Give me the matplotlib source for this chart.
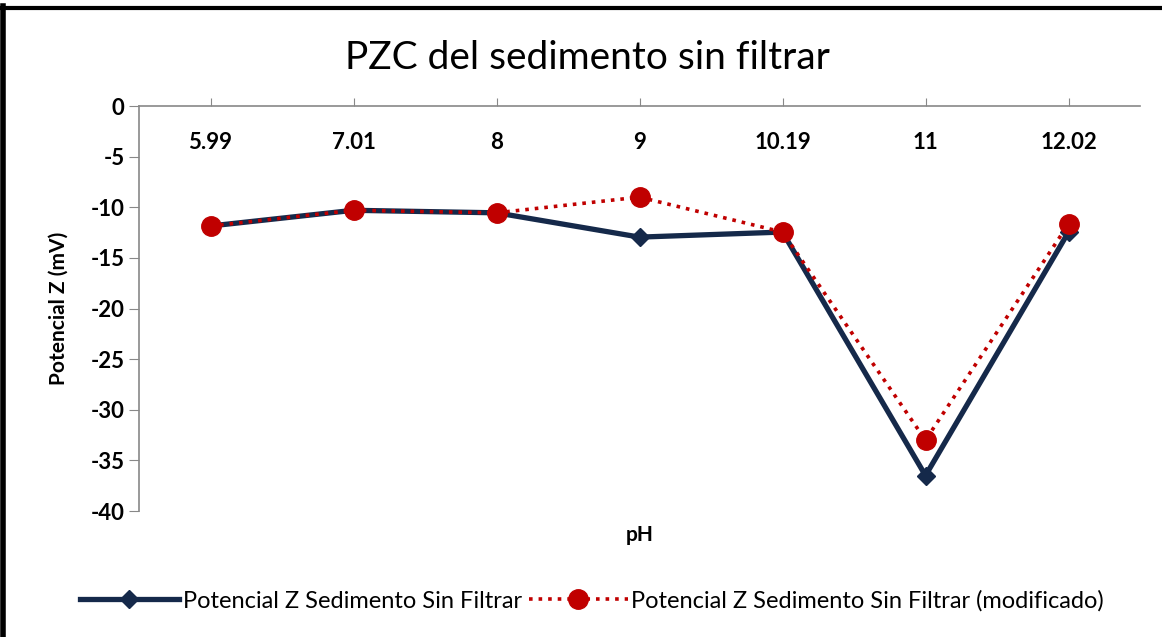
import numpy as np
import matplotlib
matplotlib.use("Agg")
import matplotlib.pyplot as plt
from matplotlib.lines import Line2D

plt.rcParams['font.family'] = ['Lato', 'DejaVu Sans']
plt.rcParams['axes.unicode_minus'] = False

ph_labels = ["5.99", "7.01", "8", "9", "10.19", "11", "12.02"]
pz_original = [-11.85, -10.3, -10.55, -12.95, -12.45, -36.5, -12.45]
pz_modificado = [-11.85, -10.3, -10.55, -9.0, -12.45, -33.0, -11.65]

navy = "#15294a"
red = "#c00000"

fig = plt.figure(figsize=(11.62, 6.37), dpi=100)
ax = fig.add_axes([139/1162, 1 - 511/637, 1001/1162, 405/637])

x = np.arange(len(ph_labels))
ax.plot(x, pz_original, "-", color=navy, lw=3.8, marker="D", ms=9,
        label="Potencial Z Sedimento Sin Filtrar")
ax.plot(x, pz_modificado, ":", color=red, lw=2.6, marker="o", ms=14,
        label="Potencial Z Sedimento Sin Filtrar (modificado)")

ax.set_xlim(-0.5, len(ph_labels) - 0.5)
ax.set_ylim(-40, 0)
ax.set_yticks(np.arange(-40, 1, 5))
ax.set_xticks(x)
ax.set_xticklabels(ph_labels, fontweight="bold", fontsize=16)
ax.xaxis.tick_top()
ax.tick_params(axis="x", direction="out", length=6, pad=-40, color="#888888")
ax.tick_params(axis="y", direction="out", length=7, labelsize=16, color="#888888")
for lbl in ax.get_yticklabels():
    lbl.set_fontweight("bold")

for s in ["right", "bottom"]:
    ax.spines[s].set_visible(False)
for s in ["left", "top"]:
    ax.spines[s].set_color("#888888")
    ax.spines[s].set_linewidth(1.2)

ax.set_ylabel("Potencial Z (mV)", fontweight="bold", fontsize=15, labelpad=16)
fig.text(640/1162, 1 - 535/637, "pH", fontweight="bold", fontsize=15,
         ha="center", va="center")
fig.text(587/1162, 1 - 58/637, "PZC del sedimento sin filtrar", fontsize=28,
         ha="center", va="center")

fig.legend(loc="center", bbox_to_anchor=(592/1162, 1 - 601/637), ncol=2,
           frameon=False, fontsize=17, handlelength=4.2, handletextpad=0.15,
           columnspacing=0.3)

# black border (left and top edge of the screenshot)
fig.add_artist(Line2D([0.003, 0.003], [0, 0.99], transform=fig.transFigure,
                      color="black", lw=4))
fig.add_artist(Line2D([0.001, 1], [0.988, 0.988], transform=fig.transFigure,
                      color="black", lw=3))

fig.savefig("out.png", dpi=100)
